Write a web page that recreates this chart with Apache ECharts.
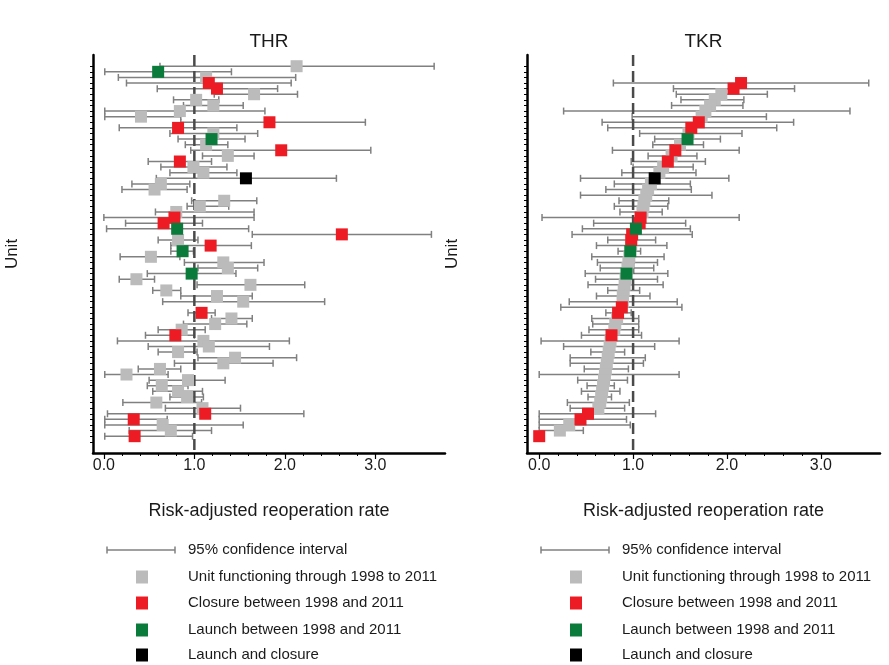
<!DOCTYPE html>
<html>
<head>
<meta charset="utf-8">
<title>Risk-adjusted reoperation rate by unit, THR and TKR</title>
<script src="https://cdn.jsdelivr.net/npm/echarts@6/dist/echarts.min.js"></script>
<style>
  html, body { margin: 0; padding: 0; background: #fff; }
  #main { width: 889px; height: 665px; }
</style>
</head>
<body>
<div id="main"></div>
<script>
// status: o = unit functioning throughout, c = closure, l = launch, b = launch and closure

// THR units, row = slot on the unit axis (top to bottom)
var thrRow = [0, 1, 2, 3, 4, 5, 6, 7, 8, 9, 10, 11, 12, 13, 14, 15, 16, 17, 18, 19, 20, 21, 22,
  24, 25, 26, 27, 28, 29, 30, 31, 32, 33, 34, 35, 36, 37, 38, 39, 40, 41, 42,
  44, 45, 46, 47, 48, 49, 50, 51, 52, 53, 54, 55, 56, 57, 58, 59, 60, 61, 62, 63, 64, 65, 66];
var thrRate = [2.13, 0.60, 1.13, 1.16, 1.25, 1.66, 1.02, 1.21, 0.84, 0.41, 1.83, 0.82, 1.21, 1.19, 1.13, 1.96, 1.37, 0.84, 0.99, 1.10, 1.57, 0.63, 0.56,
  1.33, 1.06, 0.80, 0.78, 0.66, 0.81, 2.63, 0.82, 1.18, 0.87, 0.52, 1.32, 1.37, 0.97, 0.36, 1.62, 0.69, 1.25, 1.54,
  1.08, 1.41, 1.23, 0.86, 0.79, 1.10, 1.16, 0.82, 1.45, 1.32, 0.62, 0.25, 0.93, 0.64, 0.82, 0.92, 0.58, 1.09, 1.12, 0.33, 0.65, 0.74, 0.34];
var thrLow = [0.62, 0.01, 0.16, 0.25, 0.59, 1.22, 0.77, 0.88, 0.01, 0.01, 0.85, 0.17, 0.73, 0.82, 0.90, 0.96, 1.09, 0.49, 0.63, 0.73, 0.58, 0.31, 0.20,
  0.97, 0.92, 0.57, 0.00, 0.24, 0.03, 1.64, 0.60, 0.74, 0.74, 0.18, 0.89, 1.04, 0.48, 0.17, 1.03, 0.54, 0.85, 0.65,
  0.93, 1.19, 0.88, 0.60, 0.46, 0.15, 0.49, 0.60, 1.04, 0.78, 0.38, 0.01, 0.50, 0.48, 0.54, 0.73, 0.21, 0.68, 0.04, 0.01, 0.01, 0.28, 0.01];
var thrHigh = [3.65, 1.41, 2.12, 2.07, 1.92, 2.14, 1.27, 1.54, 1.78, 0.85, 2.89, 1.47, 1.70, 1.56, 1.37, 2.95, 1.66, 1.19, 1.36, 1.47, 2.57, 0.95, 0.92,
  1.69, 1.38, 1.66, 1.66, 1.09, 1.60, 3.62, 1.04, 1.63, 0.99, 0.84, 1.77, 1.70, 1.46, 0.56, 2.22, 0.85, 1.64, 2.44,
  1.23, 1.64, 1.58, 1.12, 1.00, 2.05, 1.83, 1.03, 2.13, 1.87, 0.85, 0.71, 1.34, 0.93, 1.09, 1.10, 1.08, 1.51, 2.21, 0.70, 1.54, 1.19, 0.98];
var thrStatus = ['o', 'l', 'o', 'c', 'c', 'o', 'o', 'o', 'o', 'o', 'c', 'c', 'o', 'l', 'o', 'c', 'o', 'c', 'o', 'o', 'b', 'o', 'o',
  'o', 'o', 'o', 'c', 'c', 'l', 'c', 'o', 'c', 'l', 'o', 'o', 'o', 'l', 'o', 'o', 'o', 'o', 'o',
  'c', 'o', 'o', 'o', 'c', 'o', 'o', 'o', 'o', 'o', 'o', 'o', 'o', 'o', 'o', 'o', 'o', 'o', 'c', 'c', 'o', 'o', 'c'];

// TKR units, ranked
var tkrRow = [3, 4, 5, 6, 7, 8, 9, 10, 11, 12, 13, 14, 15, 16, 17, 18, 19, 20, 21, 22, 23, 24, 25, 26, 27, 28, 29, 30, 31, 32, 33, 34,
  35, 36, 37, 38, 39, 40, 41, 42, 43, 44, 45, 46, 47, 48, 49, 50, 51, 52, 53, 54, 55, 56, 57, 58, 59, 60, 61, 62, 63, 64, 65, 66];
var tkrRate = [2.15, 2.07, 1.94, 1.87, 1.82, 1.77, 1.73, 1.70, 1.62, 1.59, 1.58, 1.50, 1.45, 1.41, 1.37, 1.32, 1.28, 1.23, 1.19, 1.16, 1.14, 1.12, 1.11, 1.10, 1.08, 1.07, 1.03, 0.99, 0.98, 0.98, 0.97, 0.96,
  0.95, 0.94, 0.93, 0.92, 0.91, 0.90, 0.89, 0.89, 0.88, 0.84, 0.83, 0.81, 0.80, 0.77, 0.76, 0.75, 0.74, 0.73, 0.72, 0.71, 0.70, 0.69, 0.68, 0.67, 0.66, 0.65, 0.63, 0.52, 0.44, 0.32, 0.22, 0.00];
var tkrLow = [0.79, 1.43, 1.46, 1.51, 1.41, 0.26, 0.99, 0.67, 0.73, 1.07, 1.23, 1.21, 0.78, 1.16, 0.98, 1.00, 0.88, 0.44, 0.80, 0.71, 0.44, 0.85, 0.80, 0.86, 0.03, 0.58, 0.46, 0.35, 0.73, 0.61, 0.84, 0.56,
  0.62, 0.65, 0.49, 0.60, 0.52, 0.73, 0.61, 0.32, 0.23, 0.71, 0.56, 0.57, 0.53, 0.45, 0.02, 0.26, 0.55, 0.33, 0.33, 0.48, 0.00, 0.41, 0.51, 0.45, 0.52, 0.30, 0.33, 0.00, 0.00, 0.00, 0.00, 0.00];
var tkrHigh = [3.51, 2.72, 2.43, 2.18, 2.17, 3.31, 2.42, 2.71, 2.53, 2.16, 1.93, 1.75, 2.13, 1.68, 1.77, 1.64, 1.67, 2.02, 1.61, 1.62, 1.84, 1.38, 1.37, 1.31, 2.13, 1.56, 1.61, 1.63, 1.24, 1.36, 1.08, 1.33,
  1.26, 1.22, 1.37, 1.26, 1.32, 1.07, 1.18, 1.47, 1.52, 0.98, 1.06, 1.06, 1.06, 1.09, 1.49, 1.23, 0.91, 1.13, 1.11, 0.95, 1.49, 0.94, 0.80, 0.86, 0.77, 0.96, 0.91, 1.24, 0.93, 0.97, 0.47, 0.00];
var tkrStatus = ['c', 'c', 'o', 'o', 'o', 'o', 'o', 'c', 'c', 'o', 'l', 'o', 'c', 'o', 'c', 'o', 'o', 'b', 'o', 'o', 'o', 'o', 'o', 'o', 'c', 'c', 'l', 'c', 'c', 'o', 'l', 'o',
  'o', 'o', 'l', 'o', 'o', 'o', 'o', 'o', 'c', 'c', 'o', 'o', 'o', 'c', 'o', 'o', 'o', 'o', 'o', 'o', 'o', 'o', 'o', 'o', 'o', 'o', 'o', 'c', 'c', 'o', 'o', 'c'];

var panelTitles = ['THR', 'TKR'];
var majorTicks = [0, 1, 2, 3];
var minorTicks = [0.2, 0.4, 0.6, 0.8, 1.2, 1.4, 1.6, 1.8, 2.2, 2.4, 2.6, 2.8];
var legendLabels = ['95% confidence interval', 'Unit functioning through 1998 to 2011',
  'Closure between 1998 and 2011', 'Launch between 1998 and 2011', 'Launch and closure'];

var unitTicks = [];
for (var t = 0; t <= 67; t++) unitTicks.push(t);

var ink = '#1a1a1a';
var font = '"Liberation Sans", Arial, sans-serif';
var ciColor = '#808080';
var colors = { o: '#bbbbbb', c: '#ed1c24', l: '#0b7b3b', b: '#000000' };
var statusOrder = ['o', 'c', 'l', 'b'];

var panels = [
  { rows: thrRow, rate: thrRate, low: thrLow, high: thrHigh, status: thrStatus,
    left: 93, width: 352, xMin: -0.12, xMax: 3.77, unitGap: 72, legendX: 107 },
  { rows: tkrRow, rate: tkrRate, low: tkrLow, high: tkrHigh, status: tkrStatus,
    left: 527, width: 353, xMin: -0.13, xMax: 3.63, unitGap: 66, legendX: 541 }
];

function renderCI(params, api) {
  var y = api.value(2);
  var a = api.coord([api.value(0), y]);
  var b = api.coord([api.value(1), y]);
  var st = { stroke: ciColor, lineWidth: 1.5 };
  return {
    type: 'group',
    children: [
      { type: 'line', shape: { x1: a[0], y1: a[1], x2: b[0], y2: b[1] }, style: st },
      { type: 'line', shape: { x1: a[0], y1: a[1] - 3.5, x2: a[0], y2: a[1] + 3.5 }, style: st },
      { type: 'line', shape: { x1: b[0], y1: b[1] - 3.5, x2: b[0], y2: b[1] + 3.5 }, style: st }
    ]
  };
}

var grid = [], xAxis = [], yAxis = [], series = [], graphic = [];

panels.forEach(function (p, i) {
  grid.push({ left: p.left, top: 55, width: p.width, height: 398 });

  // main x axis: line, long ticks and labels
  xAxis.push({
    type: 'value', gridIndex: i, position: 'bottom', min: p.xMin, max: p.xMax,
    name: 'Risk-adjusted reoperation rate', nameLocation: 'middle', nameGap: 49,
    nameTextStyle: { fontSize: 18, color: ink, fontFamily: font },
    axisLine: { onZero: false, lineStyle: { color: '#000', width: 2.5 } },
    axisTick: { customValues: majorTicks, length: 6, lineStyle: { color: '#000', width: 1.2 } },
    axisLabel: { customValues: majorTicks, margin: 5, fontSize: 16, color: ink, fontFamily: font,
      formatter: function (v) { return v.toFixed(1); } },
    splitLine: { show: false }
  });
  // short ticks between
  xAxis.push({
    type: 'value', gridIndex: i, position: 'bottom', min: p.xMin, max: p.xMax,
    axisLine: { show: false, onZero: false },
    axisTick: { customValues: minorTicks, length: 3, lineStyle: { color: '#000', width: 1 } },
    axisLabel: { show: false },
    splitLine: { show: false }
  });

  yAxis.push({
    type: 'value', gridIndex: i, inverse: true, min: -2, max: 69,
    name: 'Unit', nameLocation: 'middle', nameGap: p.unitGap,
    nameTextStyle: { fontSize: 17, color: ink, fontFamily: font },
    axisLine: { onZero: false, lineStyle: { color: '#000', width: 2.5 } },
    axisTick: { customValues: unitTicks, length: 3, lineStyle: { color: '#000', width: 1 } },
    axisLabel: { show: false },
    splitLine: { show: false }
  });

  series.push({
    type: 'custom', xAxisIndex: 2 * i, yAxisIndex: i, renderItem: renderCI, z: 1,
    encode: { x: [0, 1], y: 2 }, silent: true,
    data: p.rows.map(function (r, k) { return [p.low[k], p.high[k], r]; })
  });

  series.push({
    type: 'line', xAxisIndex: 2 * i, yAxisIndex: i, z: 2, symbol: 'none', silent: true,
    lineStyle: { color: '#4a4a4a', width: 2.5, type: [11, 5] },
    data: [[1, -2], [1, 69]]
  });

  statusOrder.forEach(function (s, j) {
    var pts = [];
    p.rows.forEach(function (r, k) {
      if (p.status[k] === s) pts.push([p.rate[k], r]);
    });
    series.push({
      type: 'scatter', xAxisIndex: 2 * i, yAxisIndex: i, z: 3 + j, silent: true,
      symbol: 'rect', symbolSize: 12, itemStyle: { color: colors[s], opacity: 1 },
      data: pts
    });
  });

  // panel title
  graphic.push({
    type: 'text', x: p.left + p.width / 2, y: 42,
    style: { text: panelTitles[i], align: 'center', verticalAlign: 'middle',
      font: '19px ' + font, fill: ink }
  });

  // legend
  var lx = p.legendX, ly = [550, 577, 603, 630, 655];
  var st = { stroke: ciColor, lineWidth: 1.5 };
  graphic.push({ type: 'line', shape: { x1: lx, y1: ly[0], x2: lx + 68, y2: ly[0] }, style: st });
  graphic.push({ type: 'line', shape: { x1: lx, y1: ly[0] - 3.5, x2: lx, y2: ly[0] + 3.5 }, style: st });
  graphic.push({ type: 'line', shape: { x1: lx + 68, y1: ly[0] - 3.5, x2: lx + 68, y2: ly[0] + 3.5 }, style: st });
  statusOrder.forEach(function (s, j) {
    graphic.push({
      type: 'rect', shape: { x: lx + 29, y: ly[j + 1] - 6.5, width: 12, height: 13 },
      style: { fill: colors[s] }
    });
  });
  legendLabels.forEach(function (txt, j) {
    graphic.push({
      type: 'text', x: lx + 81, y: ly[j],
      style: { text: txt, align: 'left', verticalAlign: 'middle', font: '15px ' + font, fill: ink }
    });
  });
});

var chart = echarts.init(document.getElementById('main'));
chart.setOption({
  animation: false,
  backgroundColor: '#ffffff',
  grid: grid,
  xAxis: xAxis,
  yAxis: yAxis,
  series: series,
  graphic: graphic
});

window.addEventListener('resize', function () {
  chart.resize();
});
</script>
</body>
</html>
